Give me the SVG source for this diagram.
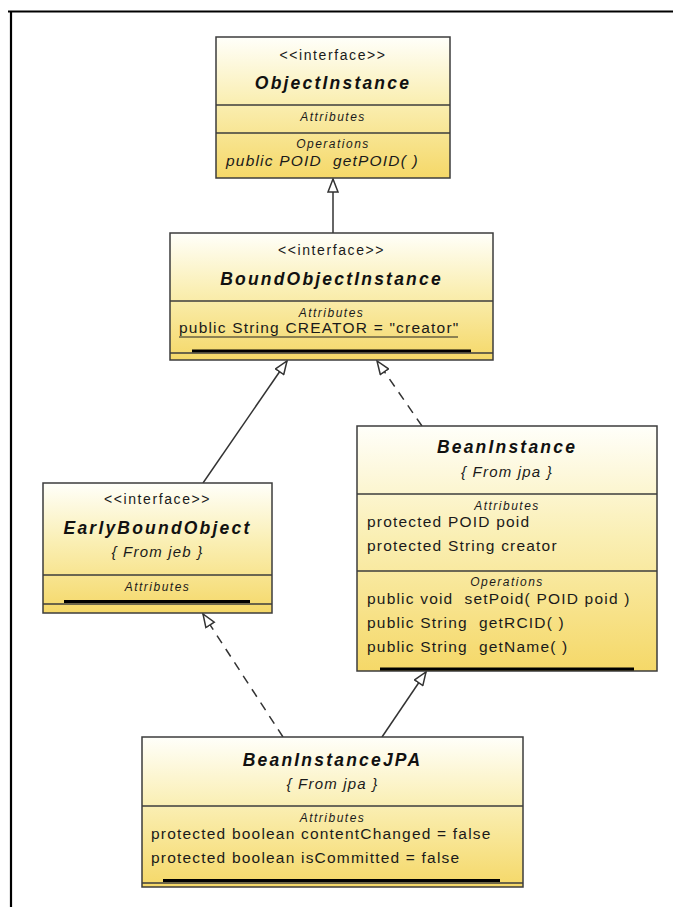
<svg xmlns="http://www.w3.org/2000/svg" width="673" height="907" viewBox="0 0 673 907">
  <style>
    .box { fill: url(#classFill); stroke: #3c3c3c; stroke-width: 1.5; }
    .sep { stroke: #3c3c3c; stroke-width: 1.3; }
    .bar { stroke: #000; stroke-width: 3; }
    .st { font-family: "Liberation Sans", Arial, sans-serif; font-size: 14px; letter-spacing: 1.6px; fill: #1a1a1a; text-anchor: middle; }
    .nm { font-family: "Liberation Sans", Arial, sans-serif; font-size: 17.5px; font-weight: bold; font-style: italic; letter-spacing: 2.2px; fill: #111; text-anchor: middle; }
    .pk { font-family: "Liberation Sans", Arial, sans-serif; font-size: 15px; font-style: italic; letter-spacing: 1.2px; fill: #1a1a1a; text-anchor: middle; }
    .cp { font-family: "Liberation Sans", Arial, sans-serif; font-size: 12px; font-style: italic; letter-spacing: 1.5px; fill: #1a1a1a; text-anchor: middle; }
    .mb { font-family: "Liberation Sans", Arial, sans-serif; font-size: 15.5px; letter-spacing: 1.2px; fill: #1a1a1a; }
    .op { font-family: "Liberation Sans", Arial, sans-serif; font-size: 15.5px; font-style: italic; letter-spacing: 1.2px; fill: #1a1a1a; }
    .edge { fill: none; stroke: #333; stroke-width: 1.5; }
    .dash { stroke-dasharray: 9 7; }
  </style>
  <defs>
    <linearGradient id="classFill" x1="0" y1="0" x2="0" y2="1">
      <stop offset="0" stop-color="#fffffa"/>
      <stop offset="0.45" stop-color="#faefb4"/>
      <stop offset="1" stop-color="#f5d868"/>
    </linearGradient>
    <marker id="hollow" viewBox="0 0 15 12" refX="14" refY="6" markerWidth="15" markerHeight="12" markerUnits="userSpaceOnUse" orient="auto">
      <path d="M1,1 L14,6 L1,11 Z" fill="#fff" stroke="#333" stroke-width="1.5"/>
    </marker>
  </defs>

  <rect width="673" height="907" fill="#fff"/>
  <!-- frame -->
  <path d="M8,11.5 H673 M11,11 V907" fill="none" stroke="#000" stroke-width="2.2"/>

  <!-- connectors -->
  <g id="connectors">
    <line class="edge" x1="333" y1="233" x2="333" y2="179" marker-end="url(#hollow)"/>
    <line class="edge" x1="203" y1="483" x2="287" y2="361" marker-end="url(#hollow)"/>
    <line class="edge dash" x1="422" y1="426" x2="377" y2="361" marker-end="url(#hollow)"/>
    <line class="edge dash" x1="283" y1="737" x2="203" y2="614" marker-end="url(#hollow)"/>
    <line class="edge" x1="382" y1="737" x2="426" y2="672" marker-end="url(#hollow)"/>
  </g>

  <!-- ObjectInstance -->
  <g id="ObjectInstance">
    <rect class="box" x="216" y="37" width="234" height="141"/>
    <line class="sep" x1="216" y1="105" x2="450" y2="105"/>
    <line class="sep" x1="216" y1="133" x2="450" y2="133"/>
    <text class="st" x="333" y="60">&lt;&lt;interface&gt;&gt;</text>
    <text class="nm" x="333" y="89">ObjectInstance</text>
    <text class="cp" x="333" y="121">Attributes</text>
    <text class="cp" x="333" y="148">Operations</text>
    <text class="op" x="226" y="166">public POID&#160; getPOID( )</text>
  </g>

  <!-- BoundObjectInstance -->
  <g id="BoundObjectInstance">
    <rect class="box" x="170" y="233" width="323" height="127"/>
    <line class="sep" x1="170" y1="301" x2="493" y2="301"/>
    <text class="st" x="331.5" y="255">&lt;&lt;interface&gt;&gt;</text>
    <text class="nm" x="331.5" y="285">BoundObjectInstance</text>
    <text class="cp" x="331.5" y="317">Attributes</text>
    <text class="mb" x="179" y="333">public String CREATOR = "creator"</text>
    <line x1="179" y1="337" x2="458" y2="337" stroke="#222" stroke-width="1"/>
    <line class="bar" x1="192" y1="351" x2="471" y2="351"/>
    <line class="sep" x1="170" y1="353" x2="493" y2="353"/>
  </g>

  <!-- EarlyBoundObject -->
  <g id="EarlyBoundObject">
    <rect class="box" x="43" y="483" width="229" height="130"/>
    <line class="sep" x1="43" y1="575" x2="272" y2="575"/>
    <text class="st" x="157.5" y="504">&lt;&lt;interface&gt;&gt;</text>
    <text class="nm" x="157.5" y="534">EarlyBoundObject</text>
    <text class="pk" x="157.5" y="557">{ From jeb }</text>
    <text class="cp" x="157.5" y="591">Attributes</text>
    <line class="bar" x1="64" y1="601.5" x2="250" y2="601.5"/>
    <line class="sep" x1="43" y1="604" x2="272" y2="604"/>
  </g>

  <!-- BeanInstance -->
  <g id="BeanInstance">
    <rect class="box" x="357" y="426" width="300" height="245"/>
    <line class="sep" x1="357" y1="494" x2="657" y2="494"/>
    <line class="sep" x1="357" y1="571" x2="657" y2="571"/>
    <text class="nm" x="507" y="453">BeanInstance</text>
    <text class="pk" x="507" y="477">{ From jpa }</text>
    <text class="cp" x="507" y="510">Attributes</text>
    <text class="mb" x="367" y="527">protected POID poid</text>
    <text class="mb" x="367" y="551">protected String creator</text>
    <text class="cp" x="507" y="586">Operations</text>
    <text class="mb" x="367" y="604">public void&#160; setPoid( POID poid )</text>
    <text class="mb" x="367" y="628">public String&#160; getRCID( )</text>
    <text class="mb" x="367" y="652">public String&#160; getName( )</text>
    <line class="bar" x1="380" y1="669" x2="634" y2="669"/>
  </g>

  <!-- BeanInstanceJPA -->
  <g id="BeanInstanceJPA">
    <rect class="box" x="142" y="737" width="381" height="150"/>
    <line class="sep" x1="142" y1="806" x2="523" y2="806"/>
    <text class="nm" x="332.5" y="766">BeanInstanceJPA</text>
    <text class="pk" x="332.5" y="789">{ From jpa }</text>
    <text class="cp" x="332.5" y="822">Attributes</text>
    <text class="mb" x="151" y="839">protected boolean contentChanged = false</text>
    <text class="mb" x="151" y="863">protected boolean isCommitted = false</text>
    <line class="bar" x1="163" y1="880.5" x2="500" y2="880.5"/>
    <line class="sep" x1="142" y1="883" x2="523" y2="883"/>
  </g>
</svg>
